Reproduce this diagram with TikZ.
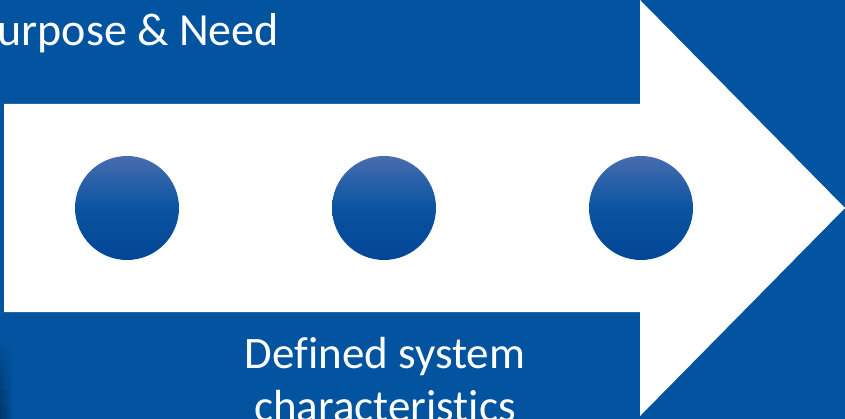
\documentclass[tikz,border=0pt]{standalone}
\usepackage{fontspec}
\setmainfont{Carlito}[Ligatures=NoCommon]
\usetikzlibrary{fadings}
\definecolor{bgblue}{RGB}{2,83,160}
\definecolor{dottop}{RGB}{72,108,175}
\definecolor{dotmid}{RGB}{10,84,162}
\definecolor{dotbot}{RGB}{2,70,150}
\tikzset{
  dot/.style={circle, minimum size=104pt, inner sep=0pt, draw=none,
    top color=dottop, bottom color=dotbot, middle color=dotmid},
  label/.style={text=white, inner sep=0pt},
}
\begin{document}
\begin{tikzpicture}[x=1pt,y=-1pt]
\useasboundingbox (0,0) rectangle (845,419);
\fill[bgblue] (0,0) rectangle (845,419);
% dark vignette bottom-left
\foreach \yy in {345,360,...,405}
  \fill[black, opacity=0.07, path fading=east] (0,\yy) rectangle (12,419);
% white arrow
\fill[white] (4,104) -- (640,104) -- (640,0) -- (845,208) -- (640,416) -- (640,312) -- (4,312) -- cycle;
% dots
\node[dot] (d1) at (127,208) {};
\node[dot] (d2) at (384,208) {};
\node[dot] (d3) at (641,208) {};
% labels
\node[label, anchor=base east, font=\fontsize{46}{55}\selectfont] (t1) at (279,46) {Purpose \& Need};
\node[label, anchor=base, align=center, font=\fontsize{45}{53}\selectfont] (t2) at (385,421) {Defined system\\characteristics};
\end{tikzpicture}
\end{document}
